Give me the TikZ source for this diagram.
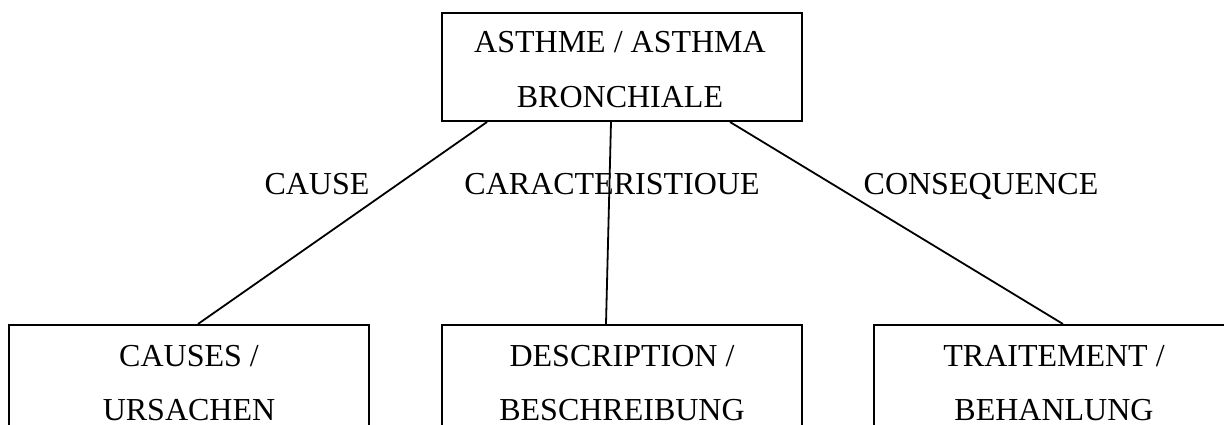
\documentclass[tikz,border=0pt]{standalone}
\usepackage{fontspec}
\setmainfont{Liberation Serif}
\begin{document}
\begin{tikzpicture}[x=1pt,y=1pt,
  box/.style={draw=black, line width=2pt, minimum width=360pt, inner sep=0pt},
  txt/.style={anchor=base, inner sep=0pt, font=\fontsize{32}{38}\selectfont},
  conn/.style={draw=black, line width=1.8pt}]
\useasboundingbox (0,0) rectangle (1224,-425);
% boxes
\node[box, minimum height=108pt] (top) at (622,-67) {};
\node[box, minimum height=140pt] (causes) at (189,-395) {};
\node[box, minimum height=140pt] (desc) at (622,-395) {};
\node[box, minimum height=140pt] (treat) at (1054,-395) {};
% texts
\node[txt] (t1) at (620,-53) {ASTHME / ASTHMA};
\node[txt] (t2) at (620,-108) {BRONCHIALE};
\node[txt] (c1) at (189,-366) {CAUSES /};
\node[txt] (c2) at (189,-420) {URSACHEN};
\node[txt] (d1) at (622,-366) {DESCRIPTION /};
\node[txt] (d2) at (622,-420) {BESCHREIBUNG};
\node[txt] (r1) at (1054,-366) {TRAITEMENT /};
\node[txt] (r2) at (1054,-420) {BEHANLUNG};
% labels
\node[txt] (lcause) at (317,-194) {CAUSE};
\node[txt] (lcar) at (612,-194) {CARACTERISTIOUE};
\node[txt] (lcons) at (981,-194) {CONSEQUENCE};
% connectors
\draw[conn] ([xshift=46pt]top.south west) -- ([xshift=9pt]causes.north);
\draw[conn] ([xshift=-11pt]top.south) -- ([xshift=-16pt]desc.north);
\draw[conn] ([xshift=108pt]top.south) -- ([xshift=9pt]treat.north);
\end{tikzpicture}
\end{document}
